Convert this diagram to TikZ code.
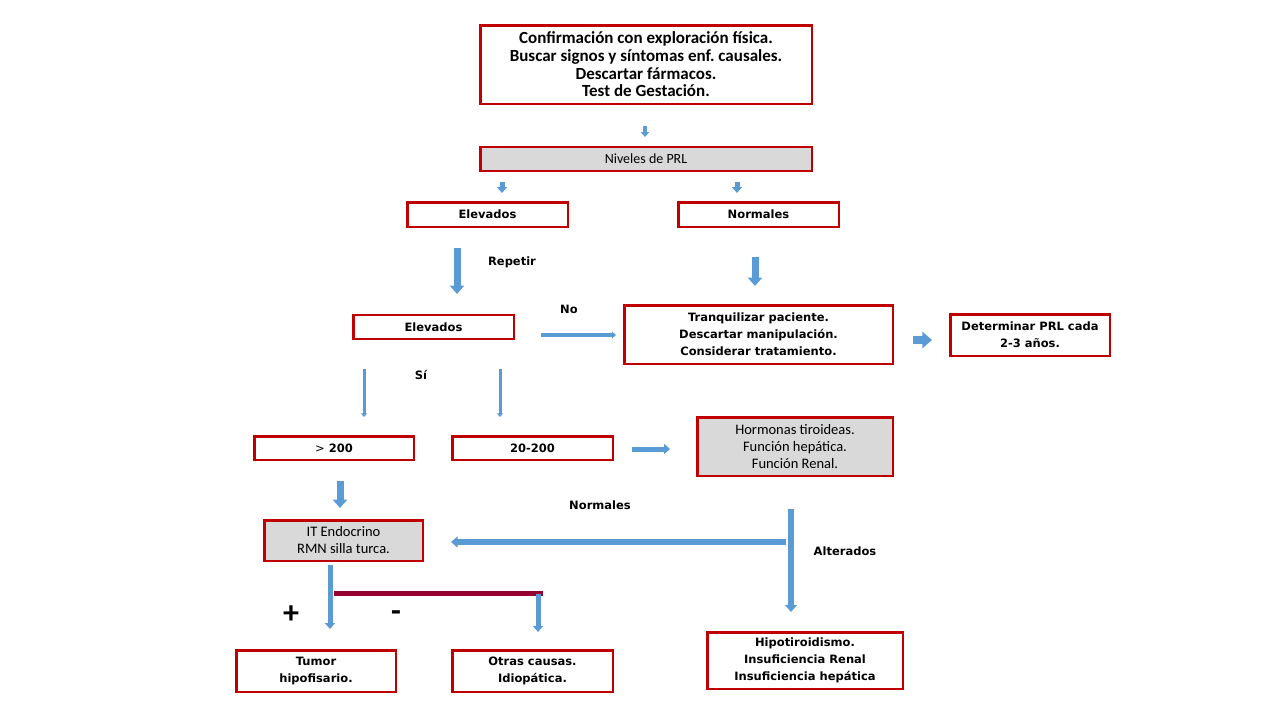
\documentclass[tikz,border=0pt]{standalone}
\usepackage{fontspec}
\setmainfont{Carlito}
\newfontfamily\tahoma{DejaVu Sans}
\usepackage{tikz}
\usetikzlibrary{arrows.meta, calc, positioning}

\definecolor{rojocaja}{RGB}{192,0,0}
\definecolor{grisclaro}{RGB}{217,217,217}
\definecolor{azulflecha}{RGB}{91,155,213}
\definecolor{granate}{RGB}{150,0,50}

\begin{document}
\begin{tikzpicture}[x=1pt, y=-1pt]
    \tikzstyle{caja} = [draw=rojocaja, line width=2.5pt, fill=white, inner sep=0pt,
	align=center, font=\tahoma\bfseries\fontsize{11.5}{17}\selectfont]
    \tikzstyle{cajagris} = [caja, fill=grisclaro, font=\fontsize{14.5}{17}\selectfont]
    \tikzstyle{flecha} = [draw=azulflecha, line width=#1,
	-{Triangle[length=0pt 1.2, width=0pt 2]}]
    \tikzstyle{etiqueta} = [font=\tahoma\bfseries\fontsize{11.5}{13}\selectfont]

    \useasboundingbox[fill=white] (0,0) rectangle (1280,720);

		\path
			node[caja, minimum width=331.5pt, minimum height=78.5pt,
				font=\bfseries\fontsize{17}{17.7}\selectfont] (conf) at (646,64.5)
				{Confirmación con exploración física.\\
				 Buscar signos y síntomas enf.\ causales.\\
				 Descartar fármacos.\\
				 Test de Gestación.}
			node[cajagris, minimum width=331.5pt, minimum height=24pt,
				font=\fontsize{14}{15}\selectfont] (prl) at (646,159) {Niveles de PRL}
			node[caja, minimum width=160.5pt, minimum height=24.5pt] (elev) at (487.5,214.5) {Elevados}
			node[caja, minimum width=160.5pt, minimum height=24.5pt] (norm) at (758.5,214.5) {Normales}
			node[caja, minimum width=160.5pt, minimum height=24pt] (elevrep) at (433.5,327) {Elevados}
			node[caja, minimum width=268.5pt, minimum height=58.5pt] (tranq) at (758.5,334.5)
				{Tranquilizar paciente.\\ Descartar manipulación.\\ Considerar tratamiento.}
			node[caja, minimum width=159.5pt, minimum height=41.5pt] (determ) at (1030,335)
				{Determinar PRL cada\\ 2-3 años.}
			node[caja, minimum width=159.5pt, minimum height=23.5pt] (mayor) at (334,448)
				{{\mdseries >} 200}
			node[caja, minimum width=160.5pt, minimum height=23.5pt] (medio) at (532.5,448) {20-200}
			node[cajagris, minimum width=195.5pt, minimum height=58.5pt] (horm) at (795,446.5)
				{Hormonas tiroideas.\\ Función hepática.\\ Función Renal.}
			node[cajagris, minimum width=158.5pt, minimum height=40.5pt] (itendo) at (343.5,540.5)
				{IT Endocrino\\ RMN silla turca.}
			node[caja, minimum width=159.5pt, minimum height=41.5pt] (tumor) at (316,671)
				{Tumor\\ hipofisario.}
			node[caja, minimum width=160.5pt, minimum height=41.5pt] (otras) at (532.5,671)
				{Otras causas.\\ Idiopática.}
			node[caja, minimum width=195.5pt, minimum height=56.5pt] (hipo) at (805,660.5)
				{Hipotiroidismo.\\ Insuficiencia Renal\\ Insuficiencia hepática}
		;

		% etiquetas
		\node[etiqueta] (repetir) at (512,262) {Repetir};
		\node[etiqueta] (no) at (569,309) {No};
		\node[etiqueta] (si) at (421,375) {Sí};
		\node[etiqueta] (normales) at (600,505) {Normales};
		\node[etiqueta] (alterados) at (845,551) {Alterados};
		\node[font=\bfseries\fontsize{32}{32}\selectfont] (mas) at (291,615) {+};
		\node[font=\bfseries\fontsize{32}{32}\selectfont] (menos) at (396,616) {-};

		% extremos de las flechas
		\coordinate (f1a) at (645,126);  \coordinate (f1b) at (645,137);
		\coordinate (f2a) at (502,182);  \coordinate (f2b) at (502,193);
		\coordinate (f3a) at (737,182);  \coordinate (f3b) at (737,193);
		\coordinate (f4a) at (457,248);  \coordinate (f4b) at (457,294);
		\coordinate (f5a) at (755,257);  \coordinate (f5b) at (755,286);
		\coordinate (f6a) at (541,335);  \coordinate (f6b) at (616,335);
		\coordinate (f7a) at (913,340);  \coordinate (f7b) at (932,340);
		\coordinate (f8a) at (364,369);  \coordinate (f8b) at (364,417);
		\coordinate (f9a) at (500,369);  \coordinate (f9b) at (500,417);
		\coordinate (f10a) at (632,449); \coordinate (f10b) at (670,449);
		\coordinate (f11a) at (340,481); \coordinate (f11b) at (340,508);
		\coordinate (f12a) at (786,542); \coordinate (f12b) at (451,542);
		\coordinate (f13a) at (791,509); \coordinate (f13b) at (791,612);
		\coordinate (f14a) at (330,565); \coordinate (f14b) at (330,629);
		\coordinate (f15a) at (538,594); \coordinate (f15b) at (538,632);
		\coordinate (barra1) at (334,593); \coordinate (barra2) at (543,593);

		\draw[flecha=4pt] (f1a) -- (f1b);
		\draw[flecha=5pt] (f2a) -- (f2b);
		\draw[flecha=5pt] (f3a) -- (f3b);
		\draw[flecha=7pt] (f4a) -- (f4b);
		\draw[flecha=7pt] (f5a) -- (f5b);
		\draw[flecha=3.5pt] (f6a) -- (f6b);
		\draw[flecha=8pt] (f7a) -- (f7b);
		\draw[flecha=3pt] (f8a) -- (f8b);
		\draw[flecha=3pt] (f9a) -- (f9b);
		\draw[flecha=5pt] (f10a) -- (f10b);
		\draw[flecha=7pt] (f11a) -- (f11b);
		\draw[flecha=5.5pt] (f12a) -- (f12b);
		\draw[flecha=6pt] (f13a) -- (f13b);
		\draw[flecha=5pt] (f14a) -- (f14b);
		\draw[granate, line width=5pt] (barra1) -- (barra2);
		\draw[flecha=5pt] (f15a) -- (f15b);

\end{tikzpicture}
\end{document}
